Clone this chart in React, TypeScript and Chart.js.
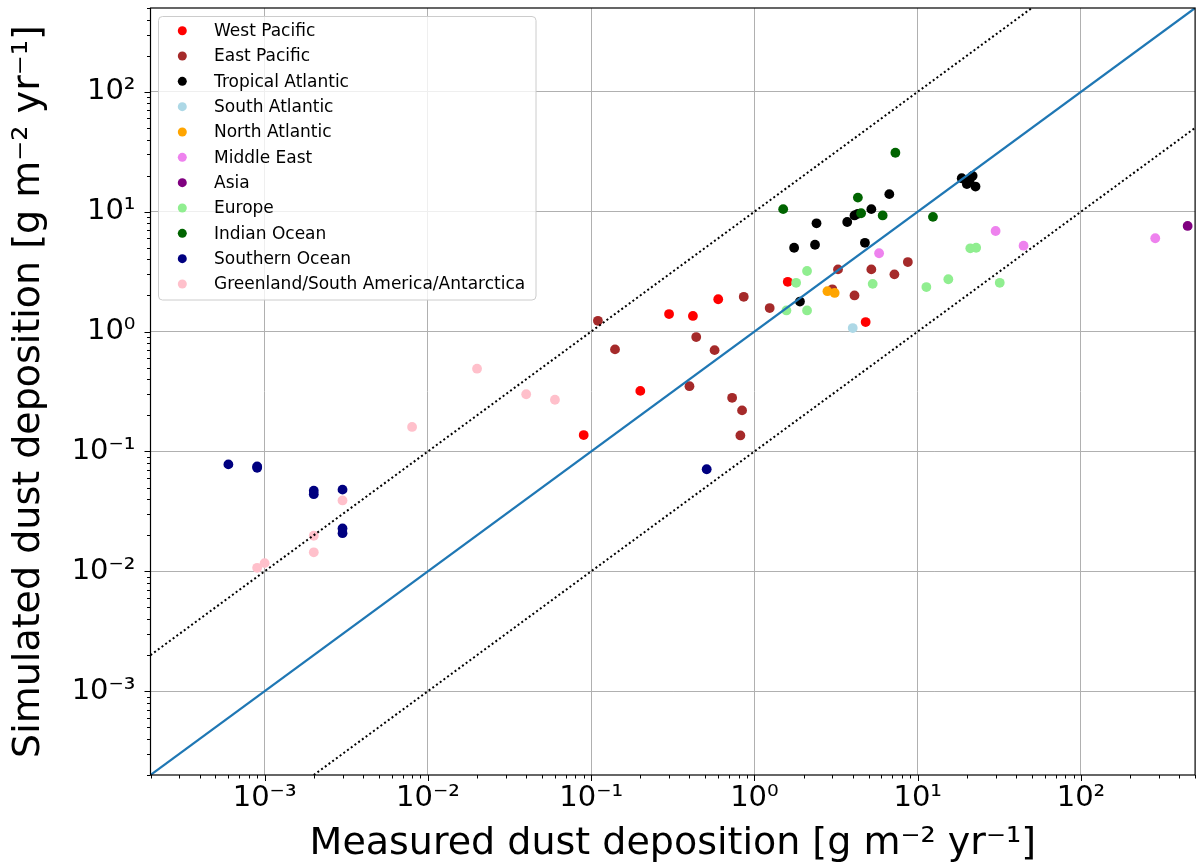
import React, { useEffect, useRef } from "react";
import { Chart, registerables } from "chart.js";

Chart.register(...registerables);

// ---------- data ----------
const regionNames = [
  "West Pacific",
  "East Pacific",
  "Tropical Atlantic",
  "South Atlantic",
  "North Atlantic",
  "Middle East",
  "Asia",
  "Europe",
  "Indian Ocean",
  "Southern Ocean",
  "Greenland/South America/Antarctica",
];
const regionColors = [
  "#ff0000",
  "#a52a2a",
  "#000000",
  "#add8e6",
  "#ffa500",
  "#ee82ee",
  "#800080",
  "#90ee90",
  "#006400",
  "#000080",
  "#ffc0cb",
];

const westPacificMeasured = [0.09, 0.2, 0.3, 0.42, 0.6, 1.6, 4.8];
const westPacificSimulated = [0.137, 0.32, 1.4, 1.35, 1.86, 2.6, 1.2];

const eastPacificMeasured = [0.11, 0.14, 0.4, 0.44, 0.57, 0.73, 0.84, 0.82, 0.86, 1.24, 3.0, 3.25, 4.1, 5.2, 7.2, 8.7];
const eastPacificSimulated = [1.23, 0.71, 0.35, 0.9, 0.7, 0.28, 0.22, 0.136, 1.95, 1.57, 2.25, 3.3, 2.0, 3.3, 3.0, 3.8];

const tropicalAtlanticMeasured = [1.75, 1.9, 2.35, 2.4, 3.7, 4.1, 4.3, 4.75, 5.2, 6.7, 18.6, 21.7, 20.0, 22.6, 20.8];
const tropicalAtlanticSimulated = [5.0, 1.78, 5.3, 8.0, 8.2, 9.3, 9.6, 5.5, 10.5, 14.0, 19.0, 19.9, 17.0, 16.2, 18.3];

const southAtlanticMeasured = [4.0];
const southAtlanticSimulated = [1.07];

const northAtlanticMeasured = [2.8, 3.1];
const northAtlanticSimulated = [2.17, 2.1];

const middleEastMeasured = [5.8, 30, 44.5, 285];
const middleEastSimulated = [4.5, 6.9, 5.2, 6.0];

const asiaMeasured = [450];
const asiaSimulated = [7.6];

const europeMeasured = [1.57, 1.8, 2.1, 2.1, 5.3, 11.3, 15.4, 21.0, 22.8, 31.8];
const europeSimulated = [1.5, 2.55, 3.2, 1.5, 2.5, 2.35, 2.73, 4.95, 5.0, 2.55];

const indianOceanMeasured = [1.5, 4.3, 4.5, 6.1, 7.3, 12.4];
const indianOceanSimulated = [10.5, 13.1, 9.7, 9.3, 31, 9.05];

const southernOceanMeasured = [0.0006, 0.0009, 0.0009, 0.002, 0.002, 0.003, 0.003, 0.003, 0.51];
const southernOceanSimulated = [0.078, 0.075, 0.073, 0.047, 0.044, 0.048, 0.0228, 0.0208, 0.071];

const polarMeasured = [0.0009, 0.001, 0.002, 0.002, 0.003, 0.008, 0.02, 0.04, 0.06];
const polarSimulated = [0.0107, 0.0117, 0.0198, 0.0144, 0.039, 0.16, 0.49, 0.3, 0.27];

const regionMeasured = [
  westPacificMeasured,
  eastPacificMeasured,
  tropicalAtlanticMeasured,
  southAtlanticMeasured,
  northAtlanticMeasured,
  middleEastMeasured,
  asiaMeasured,
  europeMeasured,
  indianOceanMeasured,
  southernOceanMeasured,
  polarMeasured,
];
const regionSimulated = [
  westPacificSimulated,
  eastPacificSimulated,
  tropicalAtlanticSimulated,
  southAtlanticSimulated,
  northAtlanticSimulated,
  middleEastSimulated,
  asiaSimulated,
  europeSimulated,
  indianOceanSimulated,
  southernOceanSimulated,
  polarSimulated,
];

const axisMin = 2e-4;
const axisMax = 500;
const tickValues = [1e-3, 1e-2, 1e-1, 1, 10, 100];
const tickLabels = ["10⁻³", "10⁻²", "10⁻¹", "10⁰", "10¹", "10²"];

const oneToOneX = [2e-4, 500];
const oneToOneY = [2e-4, 500];
const upperBoundX = [2e-4, 50];
const upperBoundY = [2e-3, 500];
const lowerBoundX = [2e-3, 500];
const lowerBoundY = [2e-4, 50];

const xTitle = "Measured dust deposition [g m⁻² yr⁻¹]";
const yTitle = "Simulated dust deposition [g m⁻² yr⁻¹]";

const FONT = "'DejaVu Sans', 'Noto Sans', sans-serif";

function pairs(xs: number[], ys: number[]) {
  return xs.map((x, i) => ({ x, y: ys[i] }));
}

function labelFor(value: number) {
  for (let i = 0; i < tickValues.length; i++) {
    if (Math.abs(Math.log10(value) - Math.log10(tickValues[i])) < 1e-6) return tickLabels[i];
  }
  return "";
}

const framePlugin = {
  id: "frameAndLegend",
  afterDatasetsDraw(chart: any) {
    const { ctx, chartArea, scales } = chart;
    const { left, right, top, bottom } = chartArea;
    ctx.save();
    // frame
    ctx.strokeStyle = "#000";
    ctx.lineWidth = 1.2;
    ctx.strokeRect(left, top, right - left, bottom - top);
    // tick marks
    ctx.lineWidth = 1;
    const xs = scales.x;
    const ys = scales.y;
    for (let d = -4; d <= 2; d++) {
      for (let m = 1; m <= 9; m++) {
        const v = m * Math.pow(10, d);
        if (v < axisMin * 0.999 || v > axisMax * 1.001) continue;
        const len = m === 1 ? 6 : 3.5;
        const px = Math.round(xs.getPixelForValue(v)) + 0.5;
        ctx.beginPath();
        ctx.moveTo(px, bottom);
        ctx.lineTo(px, bottom + len);
        ctx.stroke();
        const py = Math.round(ys.getPixelForValue(v)) + 0.5;
        ctx.beginPath();
        ctx.moveTo(left, py);
        ctx.lineTo(left - len, py);
        ctx.stroke();
      }
    }
    // legend
    const bx = 158.5;
    const by = 16.5;
    const bw = 377.5;
    const bh = 283.5;
    ctx.beginPath();
    ctx.roundRect(bx, by, bw, bh, 4);
    ctx.fillStyle = "rgba(255,255,255,0.8)";
    ctx.fill();
    ctx.strokeStyle = "#cccccc";
    ctx.lineWidth = 1;
    ctx.stroke();
    ctx.font = `17px ${FONT}`;
    ctx.textBaseline = "middle";
    ctx.textAlign = "left";
    const items = chart.data.datasets.filter((d: any) => d.isRegion);
    items.forEach((d: any, i: number) => {
      const cy = 30.7 + i * 25.33;
      ctx.beginPath();
      ctx.arc(182.3, cy, 4.5, 0, Math.PI * 2);
      ctx.fillStyle = d.backgroundColor;
      ctx.fill();
      ctx.fillStyle = "#000";
      ctx.fillText(d.label, 214, cy + 1);
    });
    ctx.restore();
  },
};

export default function App() {
  const canvasRef = useRef<HTMLCanvasElement | null>(null);

  useEffect(() => {
    const canvas = canvasRef.current;
    if (!canvas) return;
    const regionDatasets = regionNames.map((name, i) => ({
      label: name,
      isRegion: true,
      data: pairs(regionMeasured[i], regionSimulated[i]),
      backgroundColor: regionColors[i],
      borderColor: regionColors[i],
      borderWidth: 0,
      pointRadius: 4.9,
      pointHoverRadius: 4.9,
      showLine: false,
      order: 100 - i,
    }));
    const lineDatasets = [
      {
        label: "1:1",
        data: pairs(oneToOneX, oneToOneY),
        showLine: true,
        borderColor: "#1f77b4",
        borderWidth: 2.2,
        pointRadius: 0,
        order: 0,
      },
      {
        label: "10:1",
        data: pairs(upperBoundX, upperBoundY),
        showLine: true,
        borderColor: "#000000",
        borderWidth: 2,
        borderDash: [2, 2.6],
        pointRadius: 0,
        order: 0,
      },
      {
        label: "1:10",
        data: pairs(lowerBoundX, lowerBoundY),
        showLine: true,
        borderColor: "#000000",
        borderWidth: 2,
        borderDash: [2, 2.6],
        pointRadius: 0,
        order: 0,
      },
    ];

    const tickCfg = {
      autoSkip: false,
      maxRotation: 0,
      minRotation: 0,
      color: "#000",
      font: { family: FONT, size: 29 },
      callback: (v: any) => labelFor(Number(v)),
    };

    const chart = new Chart(canvas, {
      type: "scatter",
      data: { datasets: [...regionDatasets, ...lineDatasets] as any },
      options: {
        responsive: false,
        devicePixelRatio: 1,
        animation: false,
        layout: { padding: { left: 0, right: 1, top: 8, bottom: 0 } },
        plugins: {
          legend: { display: false },
          tooltip: { enabled: false },
        },
        scales: {
          x: {
            type: "logarithmic",
            min: axisMin,
            max: axisMax,
            bounds: "data",
            border: { display: false },
            grid: { color: "#b0b0b0", lineWidth: 1, drawTicks: false },
            ticks: { ...tickCfg, padding: 6 },
            title: {
              display: true,
              text: xTitle,
              color: "#000",
              font: { family: FONT, size: 38 },
              padding: { top: 0, bottom: 1.5 },
            },
            afterBuildTicks: (scale: any) => {
              scale.ticks = tickValues.map((value) => ({ value }));
            },
            afterFit: (scale: any) => {
              scale.height = 93;
              scale.paddingLeft = 0;
              scale.paddingRight = 0;
            },
          },
          y: {
            type: "logarithmic",
            min: axisMin,
            max: axisMax,
            bounds: "data",
            border: { display: false },
            grid: { color: "#b0b0b0", lineWidth: 1, drawTicks: false },
            ticks: { ...tickCfg, padding: 15 },
            title: {
              display: true,
              text: yTitle,
              color: "#000",
              font: { family: FONT, size: 38 },
              padding: { top: 6, bottom: 0 },
            },
            afterBuildTicks: (scale: any) => {
              scale.ticks = tickValues.map((value) => ({ value }));
            },
            afterFit: (scale: any) => {
              scale.width = 150.5;
              scale.paddingTop = 0;
              scale.paddingBottom = 0;
            },
          },
        },
      } as any,
      plugins: [framePlugin],
    });
    return () => chart.destroy();
  }, []);

  return (
    <div style={{ position: "fixed", left: 0, top: 0, width: 1200, height: 868, background: "#fff" }}>
      <canvas ref={canvasRef} width={1200} height={868} style={{ display: "block" }} />
    </div>
  );
}
